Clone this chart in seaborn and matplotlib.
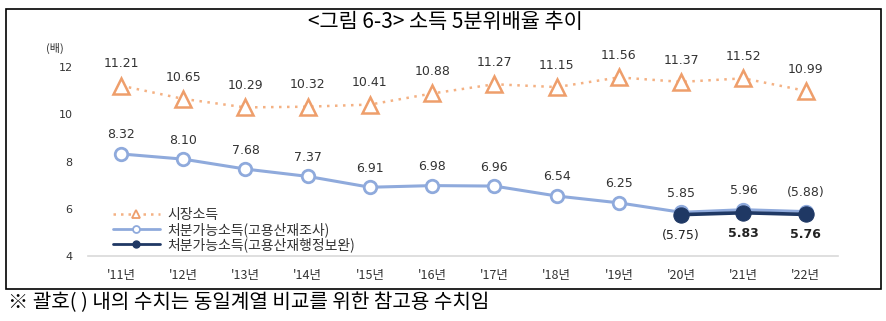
import matplotlib
matplotlib.use("Agg")
import matplotlib.pyplot as plt
import seaborn as sns
import pandas as pd
from matplotlib.patches import Rectangle
from matplotlib.lines import Line2D

sns.set_theme(style="white")
plt.rcParams['font.family'] = ['Noto Sans CJK KR', 'DejaVu Sans']

years = ["'11년", "'12년", "'13년", "'14년", "'15년", "'16년", "'17년", "'18년", "'19년", "'20년", "'21년", "'22년"]
market = [11.21, 10.65, 10.29, 10.32, 10.41, 10.88, 11.27, 11.15, 11.56, 11.37, 11.52, 10.99]
survey = [8.32, 8.10, 7.68, 7.37, 6.91, 6.98, 6.96, 6.54, 6.25, 5.85, 5.96, 5.88]
admin_years = ["'20년", "'21년", "'22년"]
admin = [5.75, 5.83, 5.76]
market_labels = ["11.21", "10.65", "10.29", "10.32", "10.41", "10.88", "11.27", "11.15", "11.56", "11.37", "11.52", "10.99"]
survey_labels = ["8.32", "8.10", "7.68", "7.37", "6.91", "6.98", "6.96", "6.54", "6.25", "5.85", "5.96", "(5.88)"]
admin_labels = ["(5.75)", "5.83", "5.76"]
admin_bold = [False, True, True]
yticks = [4, 6, 8, 10, 12]

c_market = "#F4B183"
c_market_edge = "#EE9E6B"
c_survey = "#8FAADC"
c_admin = "#1F3864"

fig = plt.figure(figsize=(8.87, 3.21), dpi=100)
ax = fig.add_axes([88/887, 1-256/321, (838-88)/887, (256-67)/321])

xpos = list(range(len(years)))
df_m = pd.DataFrame({"x": xpos, "v": market})
df_s = pd.DataFrame({"x": xpos, "v": survey})
df_a = pd.DataFrame({"x": [years.index(y) for y in admin_years], "v": admin})

sns.lineplot(data=df_m, x="x", y="v", ax=ax, color=c_market, linestyle=(0, (1, 2.2)), linewidth=1.8,
             marker="^", markersize=11, markerfacecolor="white", markeredgecolor=c_market_edge,
             markeredgewidth=1.8, zorder=3)
sns.lineplot(data=df_s, x="x", y="v", ax=ax, color=c_survey, linewidth=2.2,
             marker="o", markersize=9, markerfacecolor="white", markeredgecolor=c_survey,
             markeredgewidth=2.0, zorder=4)
sns.lineplot(data=df_a, x="x", y="v", ax=ax, color=c_admin, linewidth=2.6,
             marker="o", markersize=11, markerfacecolor=c_admin, markeredgecolor=c_admin, zorder=5)

for x, v, t in zip(xpos, market, market_labels):
    ax.annotate(t, (x, v), xytext=(0, 11), textcoords="offset points", ha="center", va="bottom",
                fontsize=9, color="#333333", family=['DejaVu Sans'])
for x, v, t in zip(xpos, survey, survey_labels):
    ax.annotate(t, (x, v), xytext=(0, 9), textcoords="offset points", ha="center", va="bottom",
                fontsize=9, color="#333333", family=['DejaVu Sans'])
for x, v, t, b in zip(df_a["x"], admin, admin_labels, admin_bold):
    ax.annotate(t, (x, v), xytext=(0, -10), textcoords="offset points", ha="center", va="top",
                fontsize=9, color="#222222", fontweight="bold" if b else "normal", family=['DejaVu Sans'])

ax.set_xlim(-0.53, 11.52)
ax.set_ylim(4, 12)
ax.set_yticks(yticks)
ax.set_yticklabels([str(t) for t in yticks], fontsize=8, color="#333333", family=['DejaVu Sans'])
ax.set_xticks(xpos)
ax.set_xticklabels(years, fontsize=9, color="#333333")
ax.tick_params(axis="x", length=0, pad=9)
ax.tick_params(axis="y", length=0, pad=11)
ax.set_xlabel("")
ax.set_ylabel("")
for s in ["top", "right", "left"]:
    ax.spines[s].set_visible(False)
ax.spines["bottom"].set_color("#D9D9D9")
ax.spines["bottom"].set_linewidth(1.2)
ax.grid(False)
ax.patch.set_alpha(0)

handles = [
    Line2D([], [], color=c_market, linestyle=(0, (1, 2)), linewidth=1.8, marker="^", markersize=6,
           markerfacecolor="white", markeredgecolor=c_market_edge, markeredgewidth=1.3),
    Line2D([], [], color=c_survey, linewidth=2, marker="o", markersize=5,
           markerfacecolor="white", markeredgecolor=c_survey, markeredgewidth=1.3),
    Line2D([], [], color=c_admin, linewidth=2, marker="o", markersize=5,
           markerfacecolor=c_admin, markeredgecolor=c_admin),
]
labels = ["시장소득", "처분가능소득(고용산재조사)", "처분가능소득(고용산재행정보완)"]
leg = ax.legend(handles, labels, loc="lower left", bbox_to_anchor=(0.02, -0.03), frameon=False,
                fontsize=10, handlelength=3.4, labelspacing=0.0, borderpad=0.2, handletextpad=0.5)
for t in leg.get_texts():
    t.set_color("#333333")

fig.text(55/887, 1-48/321, "(배)", fontsize=8, color="#333333", ha="center", va="center")
fig.text(445/887, 1-22/321, "<그림 6-3> 소득 5분위배율 추이", fontsize=15, fontweight="medium",
         ha="center", va="center", color="black")
fig.patches.append(Rectangle((6/887, 1-289/321), (881-6)/887, (289-9)/321, transform=fig.transFigure,
                             fill=False, edgecolor="black", linewidth=1.2))
fig.text(8/887, 1-303/321, "※ 괄호( ) 내의 수치는 동일계열 비교를 위한 참고용 수치임", fontsize=14.5,
         ha="left", va="center", color="black")

fig.savefig("out.png", dpi=100)
